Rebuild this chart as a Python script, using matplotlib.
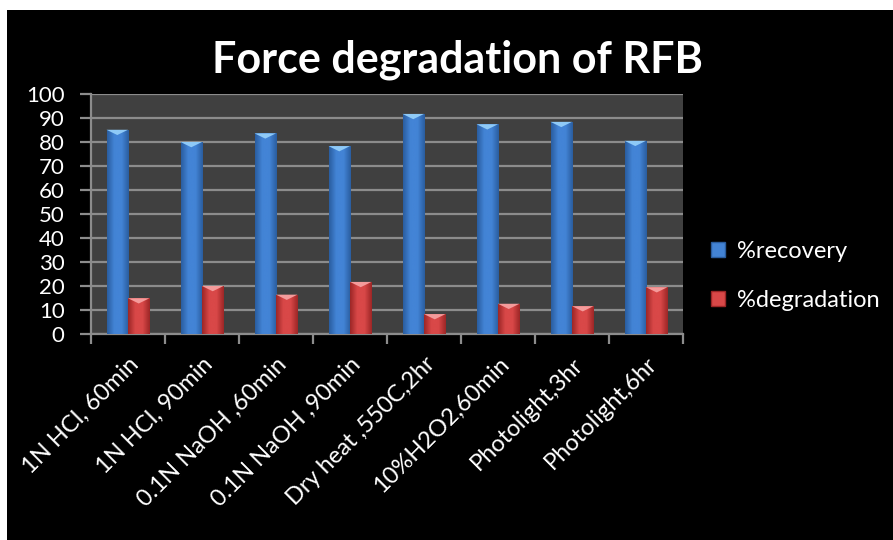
import numpy as np
import matplotlib
matplotlib.use("Agg")
import matplotlib.pyplot as plt
from matplotlib.patches import Rectangle, Polygon, Patch
from matplotlib.colors import LinearSegmentedColormap

plt.rcParams['font.family'] = ['Lato', 'DejaVu Sans']

# Stress conditions and assay results
conditions = ["1N HCl, 60min", "1N HCl, 90min", "0.1N NaOH ,60min", "0.1N NaOH ,90min",
              "Dry heat ,550C,2hr", "10%H2O2,60min", "Photolight,3hr", "Photolight,6hr"]
recovery = [85.1, 80.0, 83.6, 78.3, 91.7, 87.4, 88.4, 80.5]
degradation = [14.9, 20.0, 16.4, 21.7, 8.3, 12.6, 11.6, 19.5]
series_names = ["%recovery", "%degradation"]
yticks = list(range(0, 101, 10))

fig = plt.figure(figsize=(8.93, 5.40), dpi=100)
fig.patch.set_facecolor("white")
fig.add_artist(Rectangle((7 / 893, 0), 1 - 7 / 893, 1 - 10 / 540,
                         transform=fig.transFigure, facecolor="black",
                         edgecolor="none", zorder=-10))

ax = fig.add_axes([91 / 893, 1 - 334 / 540, (683 - 91) / 893, (334 - 94) / 540])
ax.set_facecolor("#404040")

x = np.arange(len(conditions))
bw = 0.29

styles = {
    "blue": dict(edge="#2a5d9f", mid="#4384d6", cap="#8fcaf7"),
    "red": dict(edge="#9c2626", mid="#d94848", cap="#f49b9b"),
}


def shaded_bars(xs, vals, st):
    cmap = LinearSegmentedColormap.from_list("g", [st["edge"], st["mid"], st["mid"], st["edge"]])
    grad = np.linspace(0, 1, 64).reshape(1, -1)
    bars = ax.bar(xs, vals, width=bw, color=st["mid"], edgecolor="none", zorder=3)
    for b in bars:
        x0, w, h = b.get_x(), b.get_width(), b.get_height()
        im = ax.imshow(grad, cmap=cmap, extent=(x0, x0 + w, 0, h), aspect="auto",
                       zorder=3.1, interpolation="bicubic")
        im.set_clip_path(b)
        cap = Polygon([(x0, h), (x0 + w, h), (x0 + w * 0.5, h - 2.2)], closed=True,
                      facecolor=st["cap"], edgecolor="none", zorder=3.2)
        ax.add_patch(cap)
    return bars


shaded_bars(x - bw / 2, recovery, styles["blue"])
shaded_bars(x + bw / 2, degradation, styles["red"])

ax.set_xlim(-0.5, len(conditions) - 0.5)
ax.set_ylim(0, 100)
ax.set_yticks(yticks)
ax.set_yticklabels([str(v) for v in yticks], color="white", fontsize=16)
ax.yaxis.grid(True, color="#8c8c8c", linewidth=1.6, zorder=1)
ax.set_axisbelow(True)

ax.set_xticks(x)
ax.set_xticklabels(conditions, rotation=45, ha="right", va="top",
                   rotation_mode="anchor", color="white", fontsize=17)
ax.tick_params(axis="x", which="major", length=0, pad=14)
ax.set_xticks(np.arange(-0.5, len(conditions)), minor=True)
ax.tick_params(axis="x", which="minor", length=7, width=1.6, color="#8c8c8c")
ax.tick_params(axis="y", length=8, width=1.6, color="#8c8c8c", pad=11)

for s in ["top", "right"]:
    ax.spines[s].set_visible(False)
for s in ["left", "bottom"]:
    ax.spines[s].set_color("#8c8c8c")
    ax.spines[s].set_linewidth(1.6)

fig.text(457 / 893, 1 - 60 / 540, "Force degradation of RFB", color="white",
         fontsize=31, fontweight="bold", ha="center", va="center")

handles = [Patch(facecolor=styles["blue"]["mid"], edgecolor=styles["blue"]["edge"]),
           Patch(facecolor=styles["red"]["mid"], edgecolor=styles["red"]["edge"])]
leg = fig.legend(handles, series_names, loc="center left",
                 bbox_to_anchor=(690 / 893, 1 - 276 / 540), frameon=False,
                 fontsize=17, labelcolor="white", handlelength=0.6, handleheight=0.6,
                 handletextpad=0.5, labelspacing=1.2)

fig.savefig("out.png", dpi=100, facecolor=fig.get_facecolor())
